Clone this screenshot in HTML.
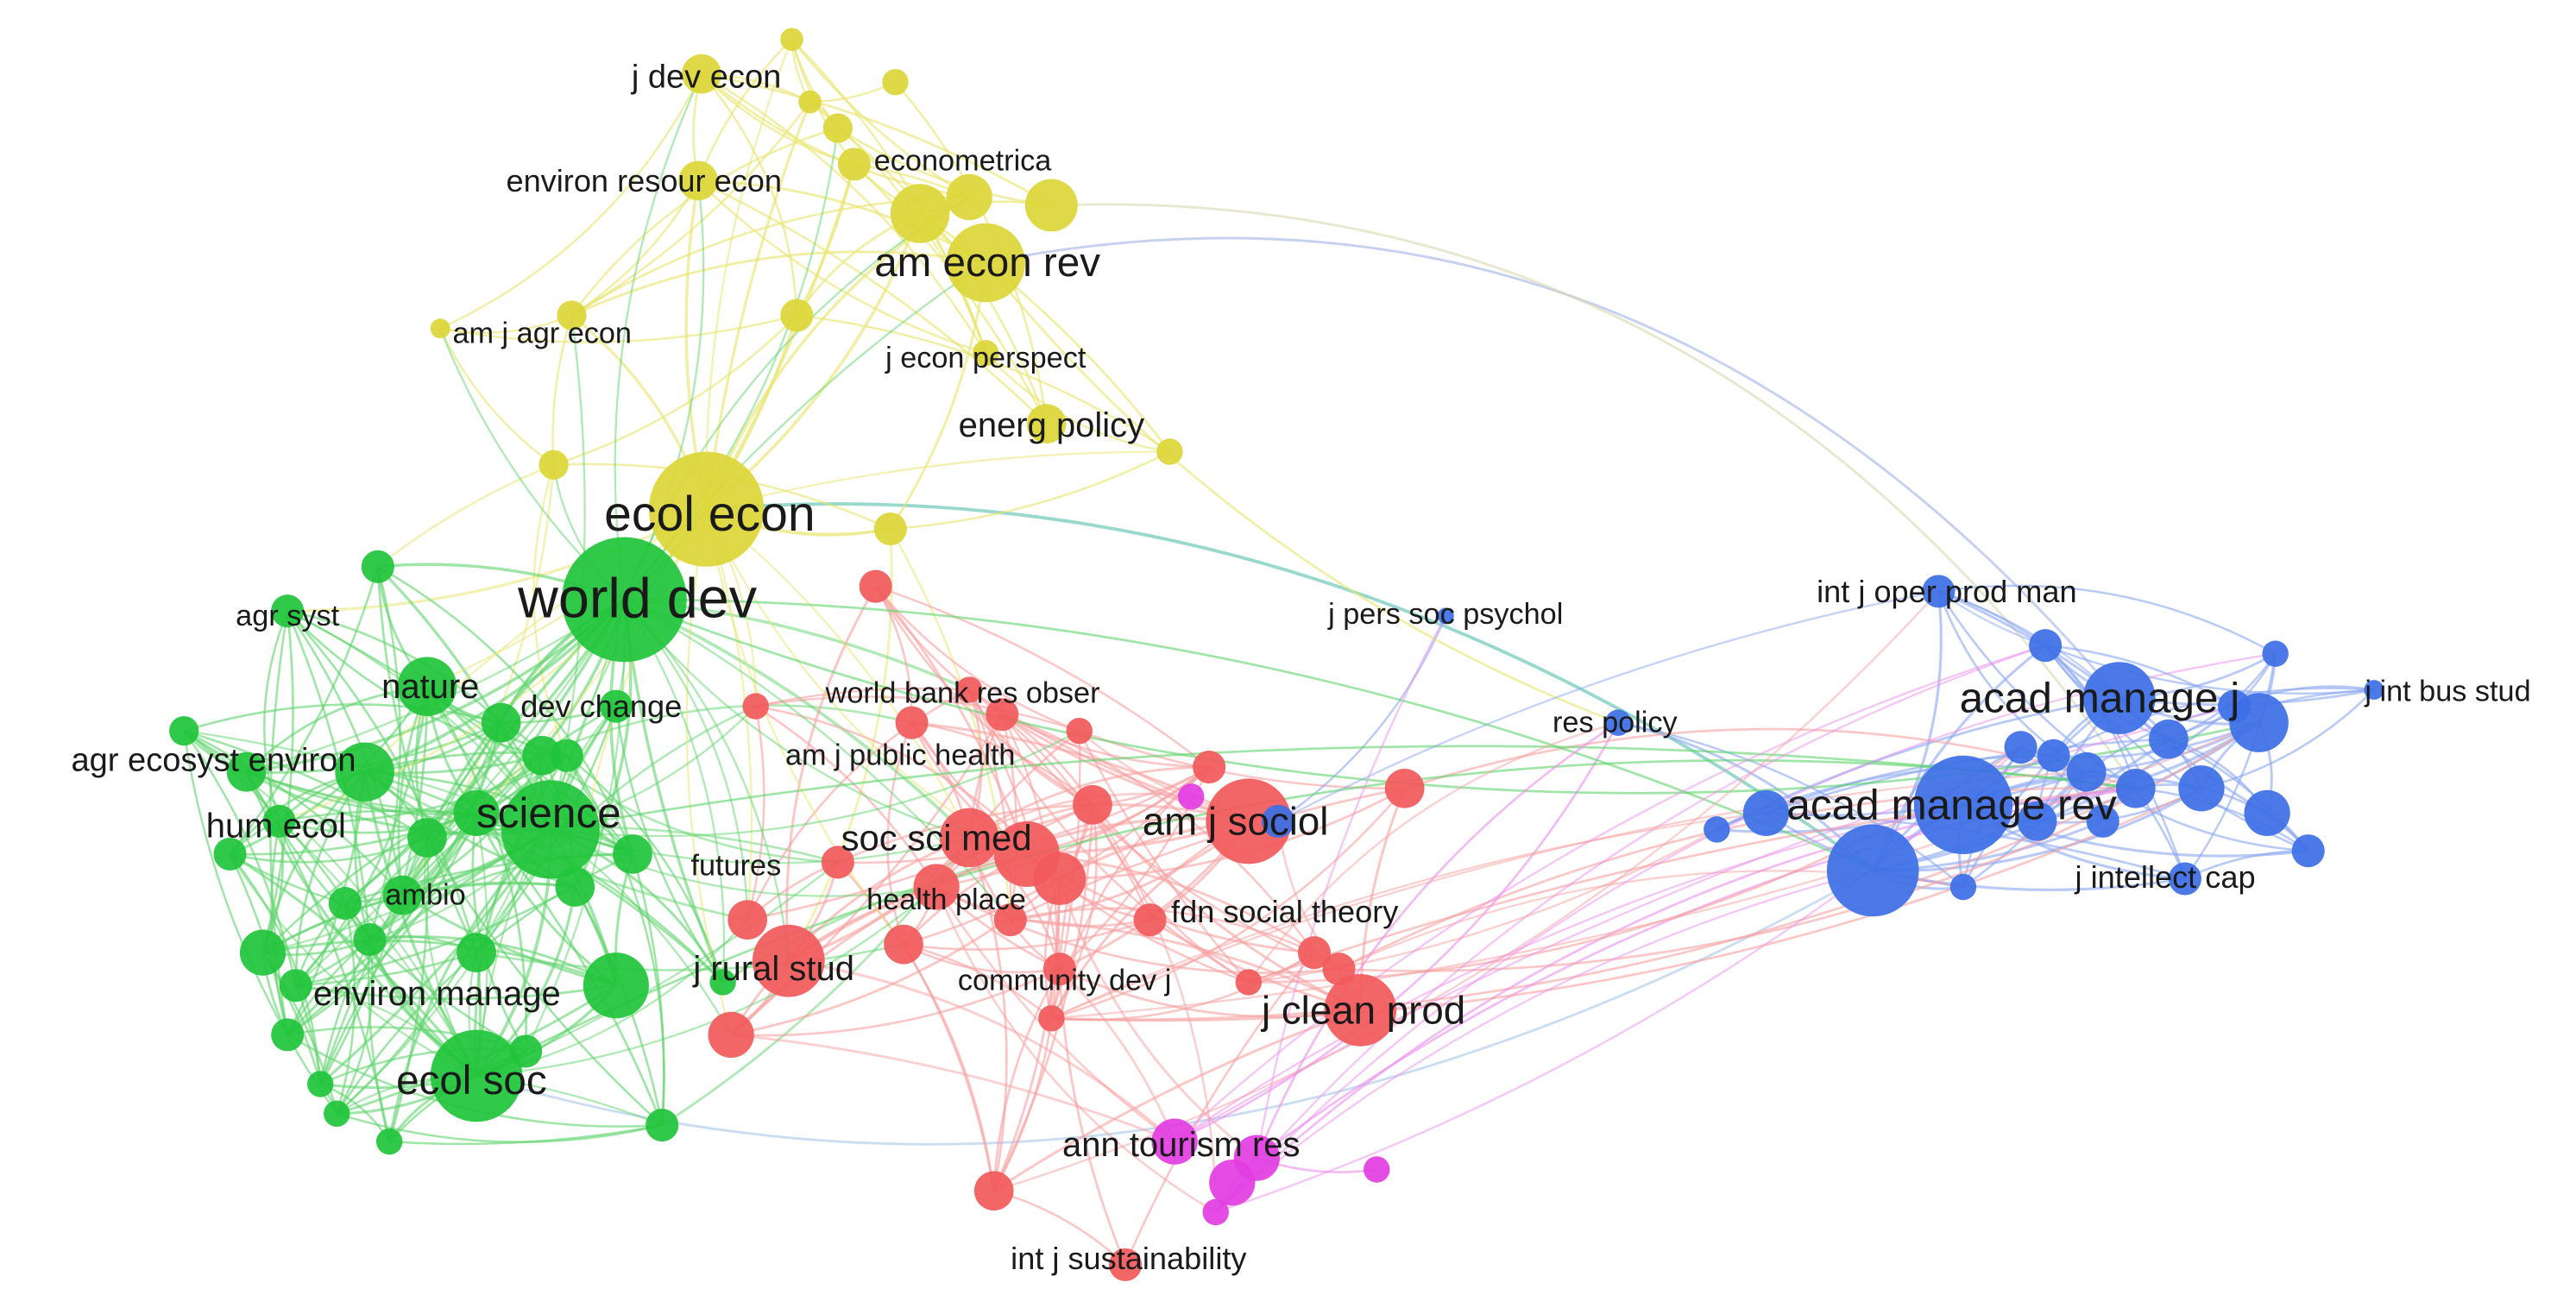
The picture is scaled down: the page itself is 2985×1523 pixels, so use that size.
<!DOCTYPE html>
<html><head><meta charset="utf-8">
<style>
html,body{margin:0;padding:0;background:#fff;}
svg{display:block;}
text{font-family:"Liberation Sans","DejaVu Sans",sans-serif;fill:#1a1a1a;text-anchor:middle;dominant-baseline:central;}
</style></head><body>
<svg id="s" width="2985" height="1523" viewBox="0 0 1568 800" preserveAspectRatio="none" xmlns="http://www.w3.org/2000/svg">
<g id="fixed" fill="none" stroke-width="1.5">
<path d="M600,160 Q1000,80 1290,425" stroke="#b8c6ee" stroke-opacity="0.8"/>
<path d="M430,310 Q800,280 1140,530" stroke="#7fd0c0" stroke-opacity="0.8" stroke-width="2"/>
<path d="M640,125 Q1050,110 1300,480" stroke="#d8d8b0" stroke-opacity="0.6"/>
<path d="M290,655 Q700,780 1140,530" stroke="#a8c8e8" stroke-opacity="0.6"/>
</g>
<g id="edges" fill="none"></g>
<g id="nodes"></g>
<g id="labels">
<text x="430" y="47" font-size="20">j dev econ</text>
<text x="586" y="98" font-size="18">econometrica</text>
<text x="392" y="110" font-size="19">environ resour econ</text>
<text x="601" y="160" font-size="25">am econ rev</text>
<text x="330" y="203" font-size="18">am j agr econ</text>
<text x="600" y="218" font-size="18">j econ perspect</text>
<text x="640" y="259" font-size="21">energ policy</text>
<text x="432" y="313" font-size="30">ecol econ</text>
<text x="388" y="364" font-size="34">world dev</text>
<text x="175" y="375" font-size="18">agr syst</text>
<text x="262" y="418" font-size="21">nature</text>
<text x="366" y="430" font-size="19">dev change</text>
<text x="130" y="463" font-size="20">agr ecosyst environ</text>
<text x="168" y="503" font-size="21">hum ecol</text>
<text x="334" y="495" font-size="26">science</text>
<text x="259" y="545" font-size="18">ambio</text>
<text x="448" y="527" font-size="18">futures</text>
<text x="266" y="605" font-size="21">environ manage</text>
<text x="287" y="658" font-size="25">ecol soc</text>
<text x="586" y="422" font-size="18">world bank res obser</text>
<text x="548" y="460" font-size="18">am j public health</text>
<text x="570" y="510" font-size="22">soc sci med</text>
<text x="576" y="548" font-size="18">health place</text>
<text x="782" y="555" font-size="19">fdn social theory</text>
<text x="471" y="590" font-size="21">j rural stud</text>
<text x="648" y="597" font-size="18">community dev j</text>
<text x="752" y="500" font-size="24">am j sociol</text>
<text x="830" y="615" font-size="24">j clean prod</text>
<text x="719" y="697" font-size="21">ann tourism res</text>
<text x="687" y="766" font-size="19">int j sustainability</text>
<text x="880" y="374" font-size="18">j pers soc psychol</text>
<text x="1185" y="360" font-size="19">int j oper prod man</text>
<text x="983" y="440" font-size="18">res policy</text>
<text x="1278" y="425" font-size="26">acad manage j</text>
<text x="1490" y="421" font-size="18">j int bus stud</text>
<text x="1188" y="490" font-size="26">acad manage rev</text>
<text x="1318" y="534" font-size="19">j intellect cap</text>
</g>
</svg>
<script>
var C={y:"#dcd637",g:"#1fc43a",r:"#f2595b",m:"#e23de2",b:"#3c6fe6"};
var E={y:"#e8e46a",g:"#5fd46c",r:"#f7a0a0",m:"#eb8eeb",b:"#8aa6f2"};
var N=[
["y",427,45,12],["y",482,24,7],["y",545,50,8],["y",493,62,7],["y",510,78,9],["y",520,100,10],["y",560,130,18],["y",590,120,14],["y",640,125,16],["y",600,160,24],["y",425,110,12],["y",485,192,10],["y",348,192,9],["y",268,200,6],["y",600,215,8],["y",637,258,12],["y",712,275,8],["y",337,283,9],["y",430,310,35],["y",542,322,10],
["g",380,365,38],["g",230,345,10],["g",175,372,10],["g",260,418,18],["g",305,440,12],["g",375,430,10],["g",112,445,9],["g",222,470,18],["g",330,460,12],["g",345,460,10],["g",335,505,30],["g",290,495,14],["g",260,510,12],["g",170,500,10],["g",245,545,12],["g",210,550,10],["g",160,580,14],["g",225,572,10],["g",290,580,12],["g",375,600,20],["g",350,540,12],["g",290,655,28],["g",175,630,10],["g",195,660,8],["g",205,678,8],["g",237,695,8],["g",403,685,10],["g",385,520,12],["g",440,598,8],["g",320,640,10],["g",150,470,12],["g",140,520,10],["g",180,600,10],
["r",533,357,10],["r",460,430,8],["r",590,420,8],["r",610,435,10],["r",657,445,8],["r",555,440,10],["r",736,467,10],["r",855,480,12],["r",665,490,12],["r",590,510,18],["r",625,520,20],["r",645,535,16],["r",570,540,14],["r",510,525,10],["r",455,560,12],["r",480,585,22],["r",550,575,12],["r",615,560,10],["r",645,590,10],["r",700,560,10],["r",760,500,26],["r",800,580,10],["r",815,590,10],["r",828,615,22],["r",445,630,14],["r",640,620,8],["r",760,598,8],["r",605,725,12],["r",685,770,10],
["m",725,485,8],["m",715,695,14],["m",765,705,14],["m",750,720,14],["m",740,738,8],["m",838,712,8],
["b",1180,360,10],["b",1245,393,10],["b",1290,425,22],["b",1385,398,8],["b",1375,440,18],["b",1140,530,28],["b",1195,490,30],["b",1230,455,10],["b",1250,460,10],["b",1270,470,12],["b",1300,480,12],["b",1340,480,14],["b",1380,495,14],["b",1405,518,10],["b",1330,535,10],["b",1195,540,8],["b",1045,505,8],["b",1075,495,14],["b",985,440,8],["b",880,375,5],["b",778,500,10],["b",1445,420,6],["b",1360,430,10],["b",1320,450,12],["b",1240,500,12],["b",1280,500,10]
];
var seed=7;function rnd(){seed=(seed*9301+49297)%233280;return seed/233280;}
var eg=document.getElementById("edges"),ng=document.getElementById("nodes"),ns="http://www.w3.org/2000/svg";
function edge(a,b,op,w){var dx=b[1]-a[1],dy=b[2]-a[2];var k=(rnd()<0.5?-1:1)*(0.06+0.12*rnd());var mx=(a[1]+b[1])/2-dy*k,my=(a[2]+b[2])/2+dx*k;
var p=document.createElementNS(ns,"path");p.setAttribute("d","M"+a[1]+","+a[2]+" Q"+mx+","+my+" "+b[1]+","+b[2]);
p.setAttribute("stroke",E[a[0]]);p.setAttribute("stroke-width",w);p.setAttribute("stroke-opacity",op);eg.appendChild(p);}
function d(a,b){return Math.hypot(a[1]-b[1],a[2]-b[2]);}
for(var i=0;i<N.length;i++)for(var j=i+1;j<N.length;j++){var a=N[i],b=N[j];
 var p=(a[3]+b[3])/60,dd=d(a,b);
 if(a[0]==b[0]){if(dd<260&&rnd()<0.12+p*0.5)edge(a,b,0.6,1+p);}
 else{if(dd<280&&rnd()<0.015+p*0.08)edge(a,b,0.5,1+p);}}
var hubs=[N[18],N[20],N[30],N[41]];hubs.forEach(function(h){N.forEach(function(n){if(n!==h&&n[0]!="b"&&d(h,n)<330&&rnd()<0.3)edge(h,n,0.5,1.2);});});
var bl=N.filter(function(n){return n[0]=="b";});
var pairs=[[9,106],[20,92],[75,98],[78,98],[79,98],[84,98],[60,98],[75,92],[83,106],[86,98],[78,99],[41,98],[30,98],[20,93],[84,106],[79,95]];
pairs.forEach(function(q){edge(N[q[0]],N[q[1]],0.6,1.4);});
for(var t=0;t<18;t++){var s=[N[75],N[78],N[79],N[80],N[83],N[84],N[86],N[88]][Math.floor(rnd()*8)];edge(s,bl[Math.floor(rnd()*bl.length)],0.5,1.2);}
N.forEach(function(n){var c=document.createElementNS(ns,"circle");c.setAttribute("cx",n[1]);c.setAttribute("cy",n[2]);c.setAttribute("r",n[3]);c.setAttribute("fill",C[n[0]]);c.setAttribute("fill-opacity","0.92");ng.appendChild(c);});
</script>
</body></html>
